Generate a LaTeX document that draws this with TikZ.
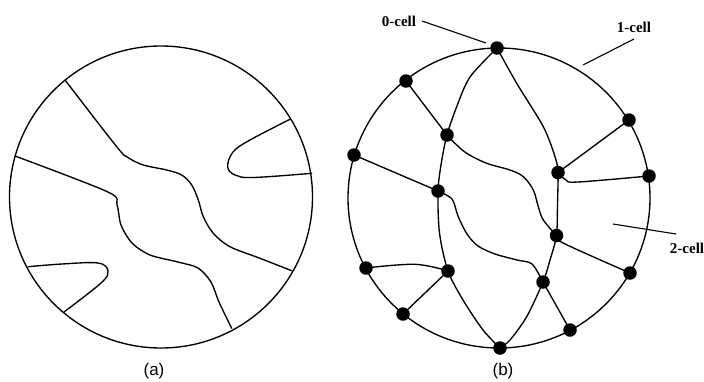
\documentclass[tikz,border=0pt]{standalone}
\usepackage{fontspec}
\setmainfont{Liberation Serif}
\newfontfamily\labsans{Liberation Sans}
\begin{document}
\begin{tikzpicture}[x=1pt,y=-1pt,
  edge/.style={line width=1.35pt, line join=round, line cap=round},
  vdot/.style={circle, fill=black, inner sep=0pt, minimum size=13.5pt},
  celllab/.style={font=\fontsize{15}{15}\selectfont\bfseries, inner sep=0pt},
  caplab/.style={font=\labsans\fontsize{17}{17}\selectfont, inner sep=0pt},
  leader/.style={line width=1.1pt}]
\useasboundingbox (0,0) rectangle (704,381);
% ---------- (a)
\coordinate (ca) at (161,197);
\draw[edge] (ca) ellipse [x radius=151.5, y radius=151];
\coordinate (a1s) at (65,80);   \coordinate (a1e) at (291.7,270.7);
\coordinate (a2s) at (15,156);  \coordinate (a2e) at (231.7,328.3);
\coordinate (a3s) at (290,119.3); \coordinate (a3e) at (311.7,173.3);
\coordinate (a4s) at (28.3,266.7); \coordinate (a4e) at (64,312);
\draw[edge] plot[smooth, tension=0.55] coordinates {(a1s) (116.7,146.7) (128,157.5) (143.3,165) (166.7,170) (181.7,175) (191.7,185) (198.3,200) (203.3,216.7) (213.3,233.3) (230,246.7) (260,258.3) (a1e)};
\draw[edge] plot[smooth, tension=0.5] coordinates {(a2s) (108,192) (117,205) (121,225) (132,243) (150,255) (178,262) (198,268) (211,282) (219,302) (a2e)};
\draw[edge] plot[smooth, tension=0.6] coordinates {(a3s) (250,140) (233,152) (227.7,166.7) (235,175) (253.3,177.5) (a3e)};
\draw[edge] plot[smooth, tension=0.6] coordinates {(a4s) (62,264) (98,263) (108,271) (101,283) (a4e)};
\node[caplab] (capa) at (154,371) {(a)};
% ---------- (b)
\coordinate (cb) at (499,198);
\draw[edge] (cb) ellipse [x radius=151, y radius=150];
\coordinate (T) at (497,48);
\coordinate (TL) at (406,81);
\coordinate (UR) at (629,120);
\coordinate (ML) at (447,135);
\coordinate (L) at (354,155);
\coordinate (R1) at (558,172.5);
\coordinate (R) at (649,176);
\coordinate (C1) at (438,191);
\coordinate (C2) at (556.5,235.5);
\coordinate (LL) at (366,268);
\coordinate (C3) at (448,271);
\coordinate (RR) at (630,273);
\coordinate (C4) at (543,282);
\coordinate (BL) at (403,314);
\coordinate (BR) at (570,330);
\coordinate (B) at (500,348);
% meridians
\draw[edge] plot[smooth, tension=0.5] coordinates {(T) (470,77) (456.7,106.7) (ML) (441.5,162) (C1) (439.5,233) (C3) (463,300) (483,330) (B)};
\draw[edge] plot[smooth, tension=0.5] coordinates {(T) (516.7,83.3) (543.3,126.7) (555,156.7) (R1) (557.5,204) (C2) (550,260) (C4) (526.7,316.7) (510,340) (B)};
% wavy curves
\draw[edge] plot[smooth, tension=0.55] coordinates {(ML) (455,143.3) (466.7,153.3) (486.7,163.3) (510,170) (523.3,176.7) (533.3,190) (538.3,206.7) (543.3,220) (C2)};
\draw[edge] plot[smooth, tension=0.5] coordinates {(C1) (452,199) (458,216) (467,234) (478,246) (495,254) (517,260) (532,264) (C4)};
% other edges
\draw[edge] (TL) -- (ML);
\draw[edge] (L) -- (C1);
\draw[edge] (UR) -- (R1);
\draw[edge] plot[smooth, tension=0.6] coordinates {(R1) (566,180) (578,182) (R)};
\draw[edge] plot[smooth, tension=0.5] coordinates {(C2) (563,243) (RR)};
\draw[edge] plot[smooth, tension=0.6] coordinates {(LL) (415,264.3) (C3)};
\draw[edge] (C3) -- (BL);
\draw[edge] (C4) -- (BR);
% dots
\foreach \v in {T,TL,UR,ML,L,R1,R,C1,C2,LL,C3,RR,C4,BL,BR,B}
  \node[vdot] (d\v) at (\v) {};
% labels
\node[celllab] (l0) at (399,21) {0-cell};
\coordinate (l0a) at (422,21);
\coordinate (l0b) at (486,43);
\draw[leader] (l0a) -- (l0b);
\node[celllab] (l1) at (634,27) {1-cell};
\coordinate (l1a) at (634,39);
\coordinate (l1b) at (583,65);
\draw[leader] (l1a) -- (l1b);
\node[celllab] (l2) at (687,248) {2-cell};
\coordinate (l2a) at (613,224);
\coordinate (l2b) at (676,234);
\draw[leader] (l2a) -- (l2b);
\node[caplab] (capb) at (503,371) {(b)};
\end{tikzpicture}
\end{document}
